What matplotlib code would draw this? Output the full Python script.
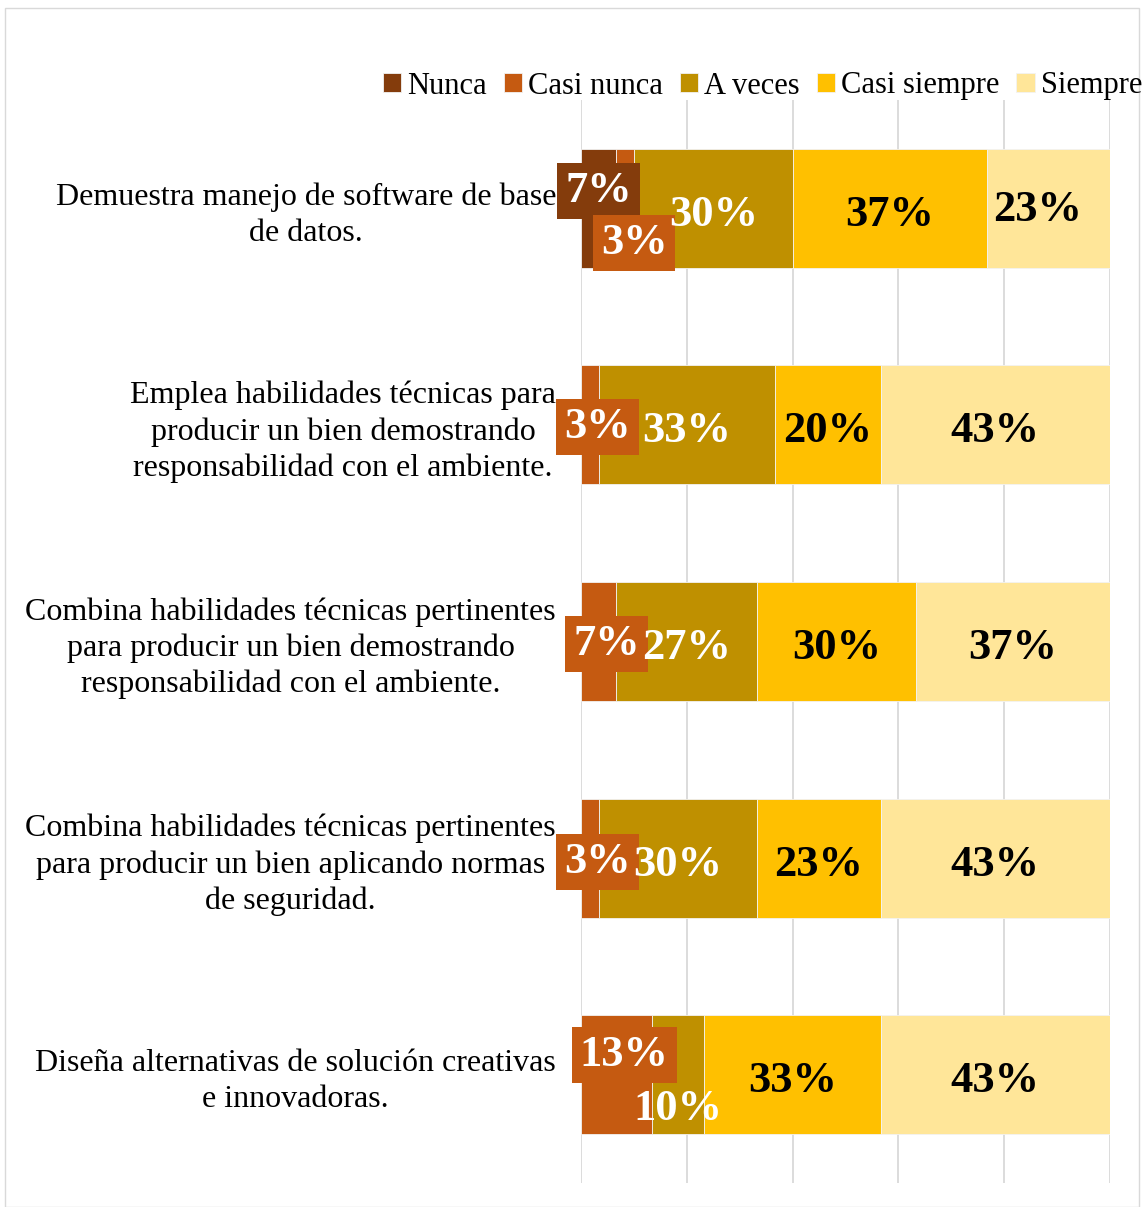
import matplotlib
matplotlib.use('Agg')
import matplotlib.pyplot as plt
from matplotlib.patches import Rectangle

# data (percent of respondents, n = 30)
categories = [
    'Demuestra manejo de software de base\nde datos.',
    'Emplea habilidades técnicas para\nproducir un bien demostrando\nresponsabilidad con el ambiente.',
    'Combina habilidades técnicas pertinentes\npara producir un bien demostrando\nresponsabilidad con el ambiente.',
    'Combina habilidades técnicas pertinentes\npara producir un bien aplicando normas\nde seguridad.',
    'Diseña alternativas de solución creativas\ne innovadoras.',
]
series_names = ['Nunca', 'Casi nunca', 'A veces', 'Casi siempre', 'Siempre']
nunca = [6.67, 0, 0, 0, 0]
casi_nunca = [3.33, 3.33, 6.67, 3.33, 13.33]
a_veces = [30.0, 33.33, 26.67, 30.0, 10.0]
casi_siempre = [36.67, 20.0, 30.0, 23.33, 33.33]
siempre = [23.33, 43.33, 36.67, 43.33, 43.33]

colors = ['#843C0C', '#C55A11', '#BF9000', '#FFC000', '#FFE699']
text_colors = ['white', 'white', 'white', 'black', 'black']

# label offsets (dx, dy in data units) for the small segments that Excel moved out
offsets = {
    (0, 0): (0.0, -0.11), (0, 1): (1.7, 0.13),
    (1, 1): (1.5, -0.02), (2, 1): (1.5, -0.02), (3, 1): (1.5, -0.01),
    (4, 1): (1.5, -0.12), (4, 2): (0.0, 0.13),
    (0, 4): (-2.0, -0.02),
}
boxed = {(0, 0), (0, 1), (1, 1), (2, 1), (3, 1), (4, 1)}

plt.rcParams['font.family'] = ['Liberation Serif', 'DejaVu Serif']

fig = plt.figure(figsize=(11.44, 12.07), dpi=100)
ax = fig.add_axes([581 / 1144, 1 - 1183 / 1207, 529 / 1144, 1083 / 1207])

data = [nunca, casi_nunca, a_veces, casi_siempre, siempre]
ypos = list(range(len(categories)))
left = [0.0] * len(categories)
for s, vals in enumerate(data):
    ax.barh(ypos, vals, left=left, height=0.55, color=colors[s],
            edgecolor='#f2f2f2', linewidth=0.6, label=series_names[s], zorder=2)
    for i, v in enumerate(vals):
        if v <= 0:
            continue
        dx, dy = offsets.get((i, s), (0, 0))
        x = left[i] + v / 2 + dx
        y = i + dy + 0.03
        kw = {}
        if (i, s) in boxed:
            kw['bbox'] = dict(boxstyle='square,pad=0.18', fc=colors[s], ec='none')
        ax.text(x, y, f'{round(v)}%', ha='center', va='center', fontsize=32,
                fontweight='bold', color=text_colors[s], zorder=5, **kw)
    left = [l + v for l, v in zip(left, vals)]

ax.set_xlim(0, 100)
ax.set_ylim(len(categories) - 0.5, -0.5)
ax.set_xticks([0, 20, 40, 60, 80, 100])
ax.tick_params(axis='x', length=0, labelbottom=False)
ax.tick_params(axis='y', length=0, pad=18)
ax.set_yticks(ypos)
ax.set_yticklabels(categories, fontsize=23, multialignment='center',
                   linespacing=1.3)
ax.grid(axis='x', color='#d9d9d9', linewidth=1.3, zorder=0)
ax.set_axisbelow(True)
for sp in ax.spines.values():
    sp.set_visible(False)

leg = fig.legend(loc='center right', bbox_to_anchor=(1142 / 1144, 1 - 86 / 1207), ncol=5,
                 frameon=False, fontsize=22, handlelength=0.6, handleheight=0.6,
                 handletextpad=0.2, columnspacing=0.55, borderaxespad=0,
                 borderpad=0)

fig.patches.append(Rectangle((5 / 1144, 0), 1134 / 1144, 1 - 8 / 1207,
                             transform=fig.transFigure, fill=False,
                             ec='#d9d9d9', lw=1))

fig.savefig('out.png', dpi=100)
